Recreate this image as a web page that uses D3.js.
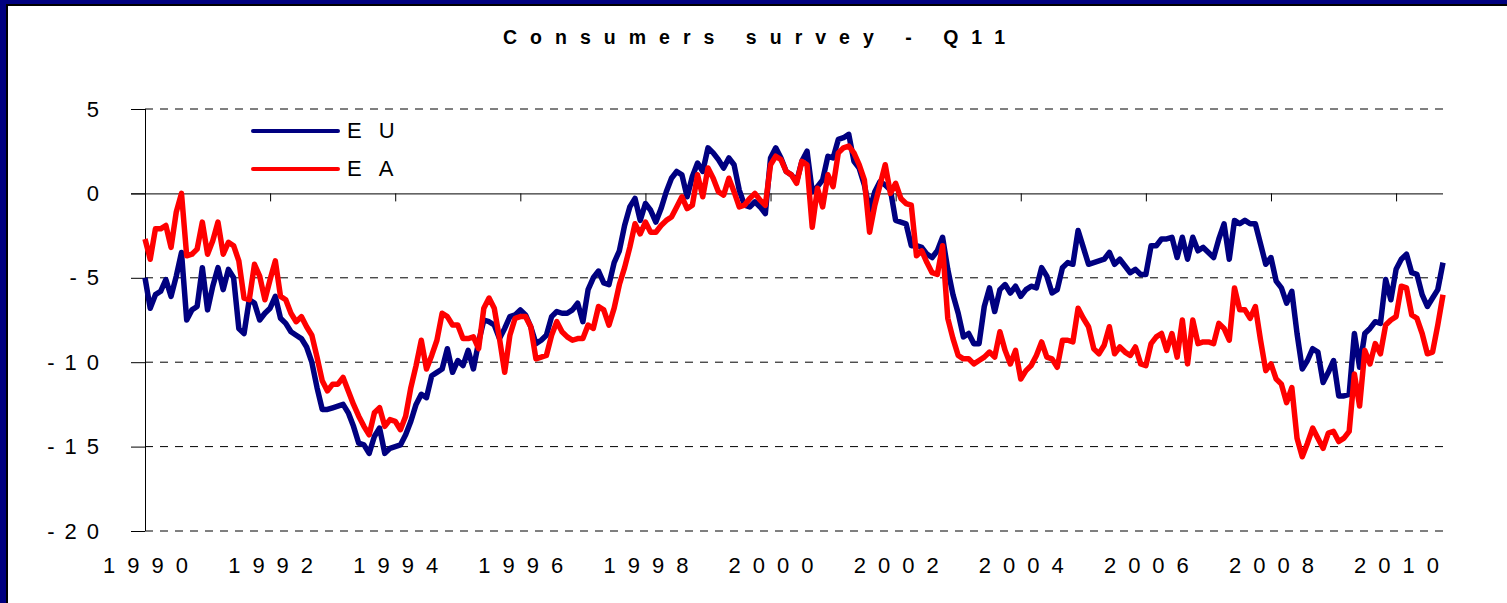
<!DOCTYPE html>
<html>
<head>
<meta charset="utf-8">
<script src="https://cdn.jsdelivr.net/npm/d3@7"></script>
<style>
html, body { margin: 0; padding: 0; background: #fff; }
svg { display: block; font-family: "Liberation Sans", Arial, sans-serif; }
</style>
</head>
<body>
<div id="chart"></div>
<script>
// monthly balances, Jan 1990 onwards
const title = 'Consumers survey - Q11';
const seriesNames = ['EU', 'EA'];
const yearLabels = [1990, 1992, 1994, 1996, 1998, 2000, 2002, 2004, 2006, 2008, 2010];
const yTicks = [5, 0, -5, -10, -15, -20];
const gridValues = [5, -5, -10, -15, -20];

const eu = [
  -5.0, -6.8, -6.0, -5.8, -5.1, -6.1, -4.9, -3.5, -7.5, -6.9,
  -6.7, -4.4, -6.9, -5.5, -4.4, -5.7, -4.5, -5.0, -8.0, -8.3,
  -6.3, -6.5, -7.5, -7.1, -6.8, -6.1, -7.4, -7.7, -8.2, -8.4,
  -8.6, -9.1, -10.0, -11.5, -12.8, -12.8, -12.7, -12.6, -12.5, -13.0,
  -13.8, -14.8, -14.9, -15.4, -14.4, -13.9, -15.4, -15.1, -15.0, -14.9,
  -14.3, -13.5, -12.5, -11.9, -12.1, -10.8, -10.6, -10.4, -9.2, -10.6,
  -9.9, -10.2, -9.3, -10.4, -8.8, -7.5, -7.6, -7.8, -8.6, -8.0,
  -7.3, -7.2, -6.9, -7.2, -7.9, -8.9, -8.7, -8.4, -7.3, -7.0,
  -7.1, -7.1, -6.9, -6.5, -7.6, -5.7, -5.0, -4.6, -5.3, -5.4,
  -4.1, -3.4, -1.9, -0.8, -0.3, -1.6, -0.6, -1.0, -1.7, -0.9,
  0.1, 0.9, 1.3, 1.1, -0.2, 1.0, 1.8, 1.3, 2.7, 2.4,
  2.0, 1.5, 2.1, 1.7, 0.2, -0.7, -0.8, -0.5, -0.8, -1.2,
  2.1, 2.7, 2.1, 1.3, 1.1, 0.7, 1.9, 2.5, 0.1, 0.4,
  0.8, 2.2, 2.1, 3.2, 3.3, 3.5, 1.9, 1.5, 0.5, -1.0,
  0.1, 0.7, 0.5, 0.2, -1.6, -1.7, -1.8, -3.1, -3.1, -3.2,
  -3.6, -3.8, -3.4, -2.6, -4.5, -6.0, -7.1, -8.5, -8.3, -8.9,
  -8.9, -6.7, -5.6, -7.0, -5.7, -5.4, -5.9, -5.5, -6.1, -5.7,
  -5.5, -5.6, -4.4, -4.9, -5.9, -5.7, -4.4, -4.1, -4.2, -2.2,
  -3.2, -4.2, -4.1, -4.0, -3.9, -3.5, -4.2, -3.9, -4.3,
  -4.7, -4.5, -4.8, -4.8, -3.1, -3.1, -2.7, -2.7, -2.6, -3.8,
  -2.6, -3.9, -2.6, -3.4, -3.2, -3.5, -3.8, -2.7, -1.8, -3.9,
  -1.6, -1.8, -1.6, -1.8, -1.8, -3.0, -4.2, -3.8, -5.2, -5.6,
  -6.5, -5.8, -8.3, -10.4, -9.9, -9.2, -9.4, -11.2, -10.6, -9.9,
  -12.0, -12.0, -11.9, -8.3, -10.3, -8.3, -8.0, -7.6, -7.7, -5.1,
  -6.3, -4.5, -3.9, -3.6, -4.7, -4.8, -6.0, -6.7, -6.2, -5.7,
  -4.1
];

const ea = [
  -2.7, -3.9, -2.1, -2.1, -1.9, -3.2, -1.1, 0.0, -3.7, -3.6,
  -3.3, -1.7, -3.6, -2.8, -1.7, -3.6, -2.9, -3.1, -4.0, -6.2,
  -6.3, -4.2, -4.9, -6.3, -5.1, -4.0, -6.1, -6.3, -7.1, -7.6,
  -7.3, -7.9, -8.4, -9.7, -11.1, -11.7, -11.3, -11.3, -10.9, -11.7,
  -12.5, -13.2, -13.8, -14.3, -13.0, -12.7, -13.8, -13.4, -13.5, -14.0,
  -13.2, -11.5, -10.2, -8.7, -10.4, -9.6, -8.7, -7.1, -7.3, -7.8,
  -7.8, -8.6, -8.6, -8.5, -9.2, -6.8, -6.2, -6.8, -8.6, -10.6,
  -8.4, -7.4, -7.3, -7.3, -7.9, -9.8, -9.7, -9.6, -8.4, -7.6,
  -8.2, -8.5, -8.7, -8.6, -8.6, -7.8, -8.0, -6.7, -6.9, -7.8,
  -6.8, -5.4, -4.4, -3.2, -1.8, -2.4, -1.7, -2.3, -2.3, -1.9,
  -1.6, -1.4, -0.8, -0.2, -0.9, -0.7, 1.1, -0.2, 1.5, 0.9,
  0.1, -0.1, 0.9, 0.1, -0.8, -0.7, -0.3, 0.0, -0.4, -0.7,
  1.7, 2.2, 2.0, 1.3, 1.1, 0.6, 1.9, 1.7, -2.0, 0.3,
  -0.8, 1.1, 0.4, 2.4, 2.7, 2.8, 2.4, 1.7, 0.8, -2.3,
  -0.7, 0.5, 1.7, 0.0, 0.6, -0.3, -0.6, -0.7, -3.7, -3.4,
  -4.1, -4.7, -4.8, -3.1, -7.4, -8.6, -9.6, -9.8, -9.8, -10.1,
  -9.9, -9.7, -9.4, -9.7, -8.2, -9.3, -10.1, -9.3, -11.0, -10.5,
  -10.2, -9.6, -8.8, -9.7, -9.8, -10.3, -8.7, -8.7, -8.8, -6.8,
  -7.4, -7.9, -9.2, -9.5, -9.0, -7.9, -9.5, -9.1, -9.4,
  -9.6, -9.1, -10.1, -10.2, -8.9, -8.5, -8.3, -9.3, -8.3, -9.7,
  -7.5, -10.1, -7.5, -8.9, -8.8, -8.8, -8.9, -7.7, -8.0, -8.7,
  -5.6, -6.9, -6.9, -7.4, -6.7, -8.7, -10.5, -10.1, -11.0, -11.3,
  -12.4, -11.5, -14.5, -15.6, -14.8, -13.9, -14.5, -15.1, -14.2, -14.1,
  -14.7, -14.5, -14.1, -10.7, -12.6, -9.3, -10.1, -8.9, -9.5, -7.8,
  -7.5, -7.3, -5.5, -5.6, -7.2, -7.4, -8.3, -9.5, -9.4, -7.8,
  -6.0
];

const colors = ['#000080', '#ff0000'];
const width = 1507, height = 603;
const plot = { left: 145, right: 1443, top: 109, bottom: 531 };

const svg = d3.select('#chart')
    .append('svg')
    .attr('width', width)
    .attr('height', height);

// frame: navy band with a thin black inner edge
svg.append('rect').attr('width', width).attr('height', height).attr('fill', '#000080');
svg.append('rect').attr('x', 6).attr('y', 4).attr('width', width).attr('height', height).attr('fill', '#000');
svg.append('rect').attr('x', 8).attr('y', 6).attr('width', width).attr('height', height).attr('fill', '#fff');

svg.append('text')
    .attr('x', 503)
    .attr('y', 44)
    .attr('textLength', 502)
    .attr('lengthAdjust', 'spacing')
    .style('font-size', '19.5px')
    .style('font-weight', 'bold')
    .text(title);

const x = d3.scaleLinear().domain([0, eu.length - 1]).range([plot.left, plot.right]);
const y = d3.scaleLinear().domain([-20, 5]).range([plot.bottom, plot.top]);

// dashed gridlines
svg.append('g')
    .selectAll('line')
    .data(gridValues)
    .enter().append('line')
    .attr('x1', plot.left)
    .attr('x2', plot.right)
    .attr('y1', d => y(d))
    .attr('y2', d => y(d))
    .attr('stroke', '#000')
    .attr('stroke-width', 1)
    .attr('stroke-dasharray', '8,7');

// y axis
const yAxis = d3.axisLeft(y)
    .tickValues(yTicks)
    .tickSize(14)
    .tickPadding(22)
    .tickFormat(d => String(d));
const gy = svg.append('g')
    .attr('transform', `translate(${plot.left},0)`)
    .call(yAxis);
gy.select('.domain').attr('stroke', '#000').attr('d', `M0.5,${plot.top}V${plot.bottom}`);
gy.selectAll('.tick line').attr('stroke', '#000');
gy.selectAll('text')
    .style('font-family', '"Liberation Sans", Arial, sans-serif')
    .style('font-size', '22px')
    .style('letter-spacing', '10px')
    .attr('fill', '#000');

// x axis on the zero line, ticks every two years
const monthOf = yr => (yr - yearLabels[0]) * 12;
const xAxis = d3.axisBottom(x)
    .tickValues(yearLabels.map(monthOf))
    .tickSize(8)
    .tickFormat('');
const gx = svg.append('g')
    .attr('transform', `translate(0,${y(0)})`)
    .call(xAxis);
gx.select('.domain').attr('stroke', '#000').attr('d', `M${plot.left - 14},0.5H${plot.right}`);
gx.selectAll('.tick line').attr('stroke', '#000');

// year labels under the plot
const xLabels = d3.axisBottom(x)
    .tickValues(yearLabels.map(monthOf))
    .tickSize(0)
    .tickPadding(26)
    .tickFormat((d, i) => String(yearLabels[i]));
const gl = svg.append('g')
    .attr('transform', `translate(6,${plot.bottom})`)
    .call(xLabels);
gl.select('.domain').remove();
gl.selectAll('text')
    .style('font-family', '"Liberation Sans", Arial, sans-serif')
    .style('font-size', '22px')
    .style('letter-spacing', '12px')
    .attr('fill', '#000');

// series
const line = d3.line()
    .x((d, i) => x(i))
    .y(d => y(d));

[eu, ea].forEach((s, k) => {
    svg.append('path')
        .datum(s)
        .attr('fill', 'none')
        .attr('stroke', colors[k])
        .attr('stroke-width', 5.5)
        .attr('stroke-linejoin', 'round')
        .attr('d', line);
});

// legend
const legend = svg.append('g');
seriesNames.forEach((name, k) => {
    const ly = 131 + k * 38;
    legend.append('line')
        .attr('x1', 253).attr('x2', 338)
        .attr('y1', ly).attr('y2', ly)
        .attr('stroke', colors[k])
        .attr('stroke-width', 4)
        .attr('stroke-linecap', 'round');
    legend.append('text')
        .attr('x', 347)
        .attr('y', ly + 7)
        .style('font-size', '22px')
        .style('letter-spacing', '17px')
        .text(name);
});
</script>
</body>
</html>
